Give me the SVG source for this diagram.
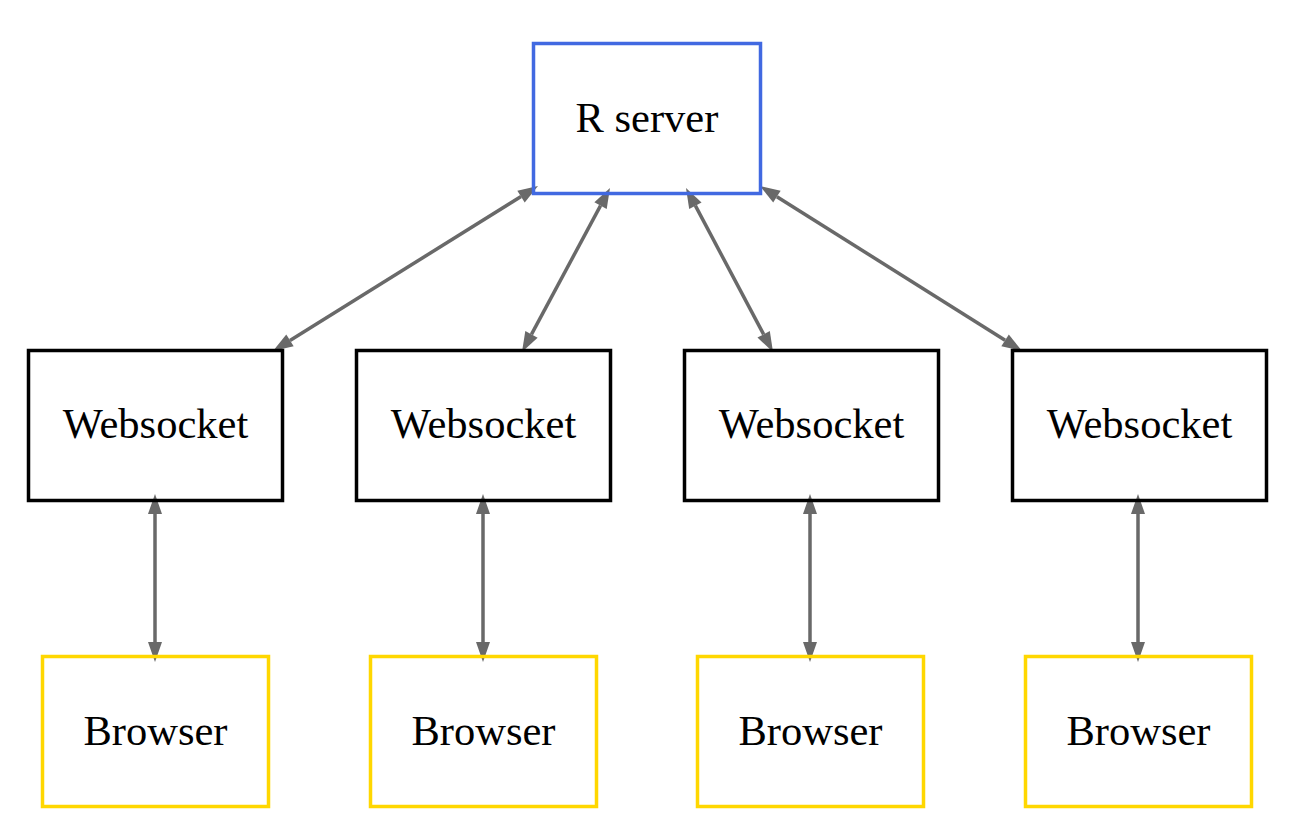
<svg xmlns="http://www.w3.org/2000/svg" width="1297" height="838" viewBox="0 0 1297 838">
<style>
.box{fill:none;stroke-width:3.5}
.srv{stroke:#4169e1}
.ws{stroke:#000}
.br{stroke:#ffd700}
.lbl{font-size:42.5px;fill:#000;text-anchor:middle}
.edge{stroke:#696969;stroke-width:3.5;fill:none}
.head{fill:#696969;stroke:none}
</style>
<rect width="1297" height="838" fill="#fff"/>
<g id="connectors">
<line class="edge" x1="289.98" y1="340.43" x2="521.02" y2="196.57"/>
<polygon class="head" points="538,186 524.72,202.51 517.32,190.63"/>
<polygon class="head" points="273,351 293.68,346.37 286.28,334.49"/>
<line class="edge" x1="531.46" y1="334.38" x2="600.54" y2="205.62"/>
<polygon class="head" points="610,188 606.71,208.93 594.37,202.31"/>
<polygon class="head" points="522,352 537.63,337.69 525.29,331.07"/>
<line class="edge" x1="695.37" y1="205.67" x2="763.63" y2="334.33"/>
<polygon class="head" points="773,352 757.45,337.61 769.81,331.05"/>
<polygon class="head" points="686,188 689.19,208.95 701.55,202.39"/>
<line class="edge" x1="776.92" y1="196.66" x2="1005.08" y2="340.34"/>
<polygon class="head" points="1022,351 1001.35,346.26 1008.81,334.42"/>
<polygon class="head" points="760,186 773.19,202.58 780.65,190.74"/>
<line class="edge" x1="155" y1="512" x2="155" y2="644"/>
<polygon class="head" points="155,494 148,514 162,514"/>
<polygon class="head" points="155,662 148,642 162,642"/>
<line class="edge" x1="483" y1="512" x2="483" y2="644"/>
<polygon class="head" points="483,494 476,514 490,514"/>
<polygon class="head" points="483,662 476,642 490,642"/>
<line class="edge" x1="810" y1="512" x2="810" y2="644"/>
<polygon class="head" points="810,494 803,514 817,514"/>
<polygon class="head" points="810,662 803,642 817,642"/>
<line class="edge" x1="1138" y1="512" x2="1138" y2="644"/>
<polygon class="head" points="1138,494 1131,514 1145,514"/>
<polygon class="head" points="1138,662 1131,642 1145,642"/>
</g>
<g font-family="'Liberation Serif', 'Times New Roman', 'DejaVu Serif', serif">
<g id="rserver"><rect class="box srv" x="533.5" y="43.5" width="227" height="150"/><text class="lbl" x="647" y="132">R server</text></g>
<g id="ws1"><rect class="box ws" x="28.5" y="350.5" width="254" height="150"/><text class="lbl" x="155.5" y="438">Websocket</text></g>
<g id="ws2"><rect class="box ws" x="356.5" y="350.5" width="254" height="150"/><text class="lbl" x="483.5" y="438">Websocket</text></g>
<g id="ws3"><rect class="box ws" x="684.5" y="350.5" width="254" height="150"/><text class="lbl" x="811.5" y="438">Websocket</text></g>
<g id="ws4"><rect class="box ws" x="1012.5" y="350.5" width="254" height="150"/><text class="lbl" x="1139.5" y="438">Websocket</text></g>
<g id="br1"><rect class="box br" x="42.5" y="656.5" width="226" height="150"/><text class="lbl" x="155.5" y="745">Browser</text></g>
<g id="br2"><rect class="box br" x="370.5" y="656.5" width="226" height="150"/><text class="lbl" x="483.5" y="745">Browser</text></g>
<g id="br3"><rect class="box br" x="697.5" y="656.5" width="226" height="150"/><text class="lbl" x="810.5" y="745">Browser</text></g>
<g id="br4"><rect class="box br" x="1025.5" y="656.5" width="226" height="150"/><text class="lbl" x="1138.5" y="745">Browser</text></g>
</g>
</svg>
